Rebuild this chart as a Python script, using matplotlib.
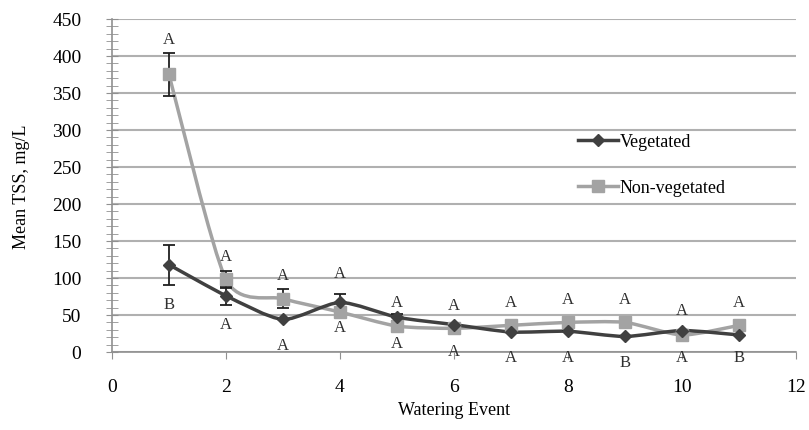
import matplotlib
matplotlib.use('Agg')
import matplotlib.pyplot as plt
from matplotlib.path import Path
from matplotlib.patches import PathPatch
from matplotlib.ticker import MultipleLocator

plt.rcParams['font.family'] = ['Liberation Serif', 'DejaVu Serif']

events = [1, 2, 3, 4, 5, 6, 7, 8, 9, 10, 11]
veg = [118, 76, 44, 67, 47, 37, 27, 28, 21, 29, 23]
veg_err = [27, 12, 0, 12, 5, 0, 0, 0, 0, 0, 0]
nonveg = [375, 98, 72, 54, 35, 32, 36, 40, 40, 23, 36]
nonveg_err = [29, 12, 13, 0, 0, 0, 0, 0, 0, 0, 0]
top_letters = ['A'] * 11
bottom_letters = ['B', 'A', 'A', 'A', 'A', 'A', 'A', 'A', 'B', 'A', 'B']
top_y = [423, 130, 104, 107, 67, 63, 68, 72, 72, 57, 68]
bottom_y = [65, 38, 9, 34, 12, 2, -7, -7, -13, -7, -7]

VEG_C = '#404040'
NONVEG_C = '#a3a3a3'


def smooth_path(x, y, tension=0.35):
    # cubic bezier through every point, like a spreadsheet "smoothed line"
    verts = [(x[0], y[0])]
    codes = [Path.MOVETO]
    n = len(x)
    for i in range(n - 1):
        x0, y0 = (x[i - 1], y[i - 1]) if i > 0 else (x[i], y[i])
        x3, y3 = (x[i + 2], y[i + 2]) if i + 2 < n else (x[i + 1], y[i + 1])
        c1 = (x[i] + (x[i + 1] - x0) * tension / 3, y[i] + (y[i + 1] - y0) * tension / 3)
        c2 = (x[i + 1] - (x3 - x[i]) * tension / 3, y[i + 1] - (y3 - y[i]) * tension / 3)
        verts += [c1, c2, (x[i + 1], y[i + 1])]
        codes += [Path.CURVE4] * 3
    return Path(verts, codes)


fig = plt.figure(figsize=(8.09, 4.31), dpi=100)
ax = fig.add_axes([0.1384, 0.181, 0.8456, 0.7726])

for ys, c in [(nonveg, NONVEG_C), (veg, VEG_C)]:
    ax.add_patch(PathPatch(smooth_path(events, ys), fill=False, edgecolor=c, lw=2.5, zorder=3))

ax.errorbar(events, nonveg, yerr=nonveg_err, fmt='none', ecolor='#202020', elinewidth=1.3,
            capsize=4, capthick=1.3, zorder=4)
ax.errorbar(events, veg, yerr=veg_err, fmt='none', ecolor='#202020', elinewidth=1.3,
            capsize=4, capthick=1.3, zorder=4)
ax.plot(events, nonveg, ls='none', marker='s', ms=9, color=NONVEG_C, zorder=5)
ax.plot(events, veg, ls='none', marker='D', ms=6, color=VEG_C, zorder=5)

# legend handles
ax.plot([], [], color=VEG_C, lw=2.5, marker='D', ms=6, label='Vegetated')
ax.plot([], [], color=NONVEG_C, lw=2.5, marker='s', ms=9, label='Non-vegetated')

for x, t, ty, b, by in zip(events, top_letters, top_y, bottom_letters, bottom_y):
    ax.text(x, ty, t, ha='center', va='center', fontsize=12, color='#303030')
    ax.text(x, by, b, ha='center', va='center', fontsize=12, color='#303030', clip_on=False)

ax.set_xlim(0, 12)
ax.set_ylim(0, 450)
ax.xaxis.set_major_locator(MultipleLocator(2))
ax.yaxis.set_major_locator(MultipleLocator(50))
ax.yaxis.set_minor_locator(MultipleLocator(10))
ax.yaxis.grid(True, color='#b0b0b0', lw=1.5)
ax.set_axisbelow(True)
for s in ['top', 'right']:
    ax.spines[s].set_visible(False)
for s in ['left', 'bottom']:
    ax.spines[s].set_color('#909090')
    ax.spines[s].set_linewidth(1.2)
ax.tick_params(axis='y', which='both', direction='inout', color='#909090', labelsize=14,
               length=8, pad=18)
ax.tick_params(axis='x', direction='out', length=5, color='#909090', labelsize=14, pad=14)

ax.set_xlabel('Watering Event', fontsize=13, labelpad=4)
ax.set_ylabel('Mean TSS, mg/L', fontsize=13, labelpad=16)

leg = ax.legend(loc='upper left', bbox_to_anchor=(0.668, 0.684), frameon=False, fontsize=13,
                labelspacing=1.6, handlelength=2.2, handletextpad=0.1, borderpad=0)

fig.savefig('out.png', dpi=100)
